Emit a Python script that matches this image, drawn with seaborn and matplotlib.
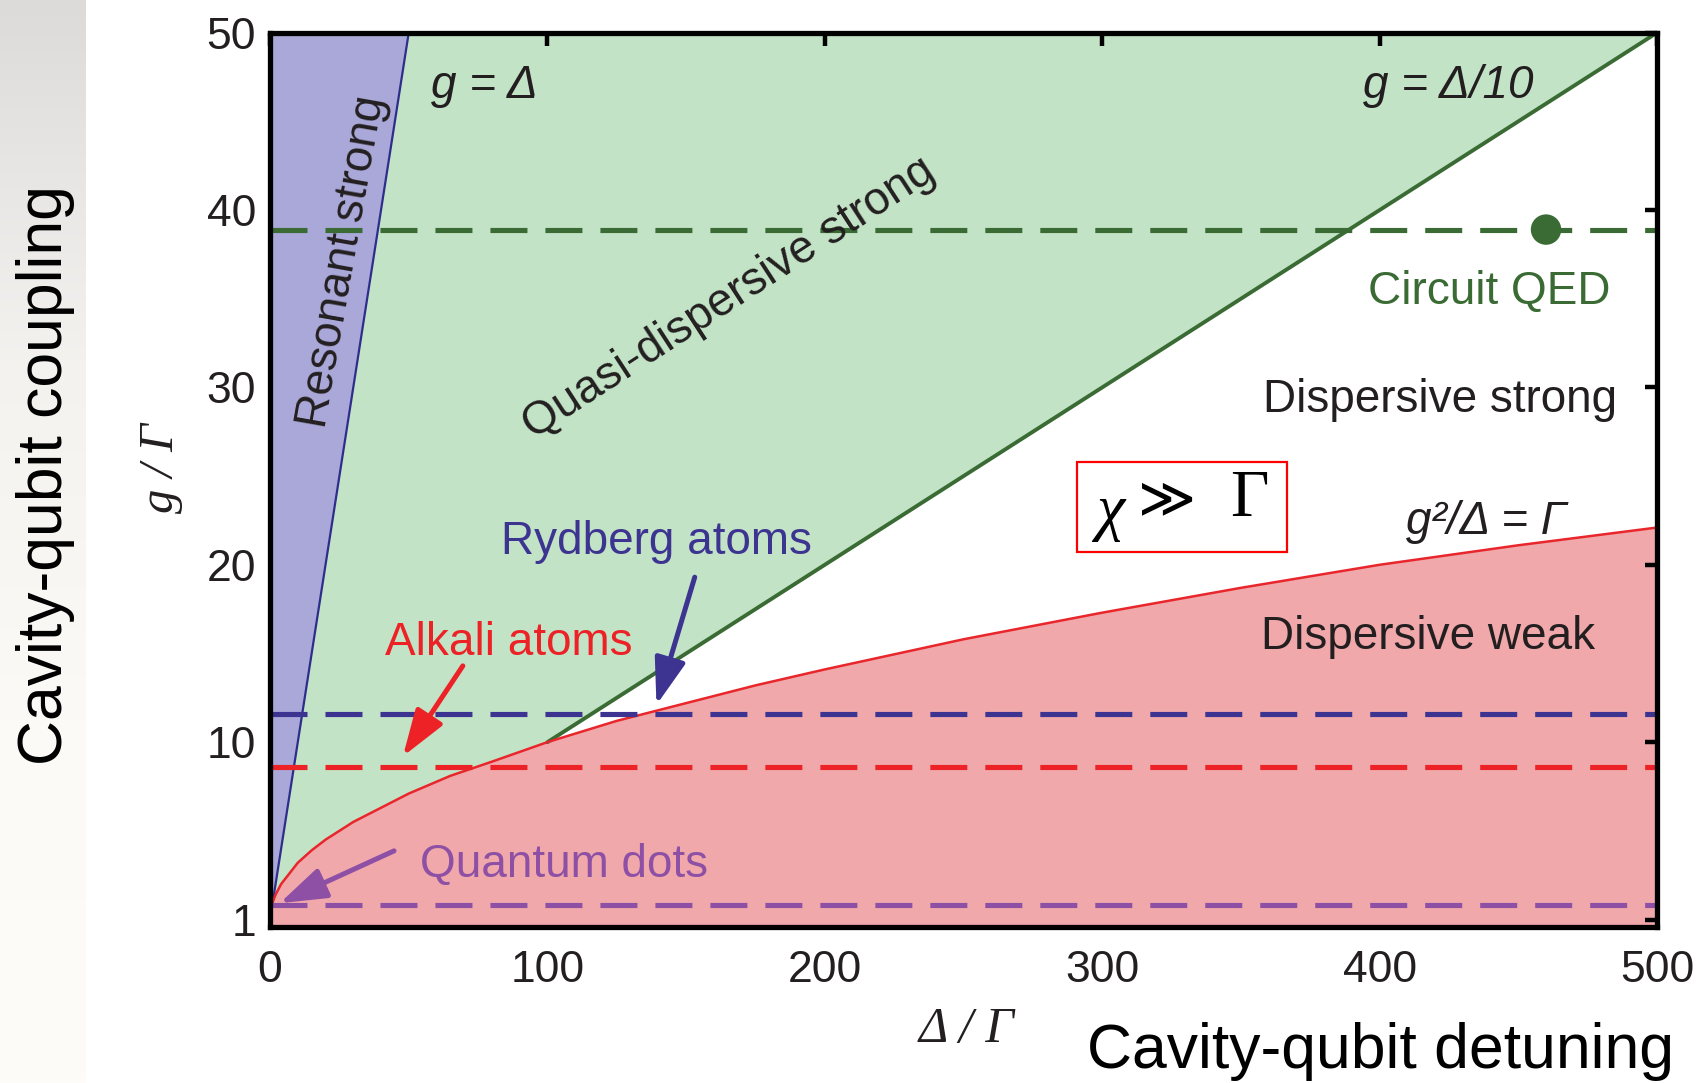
import numpy as np
import pandas as pd
import matplotlib
matplotlib.use("Agg")
import matplotlib.pyplot as plt
import seaborn as sns
from matplotlib.patches import Rectangle

# ---------------- data ----------------
# regime boundaries
resonant_delta = [0, 50]          # g = Δ
resonant_g = [0, 50]
quasi_delta = [100, 500]          # g = Δ/10 (drawn part)
quasi_g = [10, 50]
disp_delta = [0, 1, 2, 4, 7, 10, 15, 20, 30, 40, 50, 65, 80, 100, 125, 150, 175,
              200, 250, 300, 350, 400, 450, 500]                       # g²/Δ = Γ
disp_g = [0, 1.0, 1.4, 2.0, 2.6, 3.2, 3.9, 4.5, 5.5, 6.3, 7.1, 8.1, 8.9, 10.0, 11.2,
          12.2, 13.2, 14.1, 15.8, 17.3, 18.7, 20.0, 21.1, 22.1]

# green region: between g = Δ/10 and min(g = Δ, 50)
green_delta = [0, 50, 500]
green_low = [0, 5, 50]
green_high = [0, 50, 50]

systems = ["Circuit QED", "Rydberg atoms", "Alkali atoms", "Quantum dots"]
system_g = [38.9, 11.6, 8.6, 0.8]
system_colors = ["#3b6b34", "#3d3492", "#ec2227", "#8e50a5"]
cqed_point = (460, 38.9)

xticks = [0, 100, 200, 300, 400, 500]
xtick_labels = ["0", "100", "200", "300", "400", "500"]
yticks = [0, 10, 20, 30, 40, 50]
ytick_labels = ["1", "10", "20", "30", "40", "50"]

# ---------------- style ----------------
sns.set_theme(style="white")
plt.rcParams["font.family"] = ["Liberation Sans", "DejaVu Sans"]
DARK = "#231f20"
SERIF = ["Liberation Serif", "DejaVu Serif"]

fig = plt.figure(figsize=(17.07, 10.83), dpi=100)
fig.patch.set_facecolor("white")

# left slide-background strip
bg = fig.add_axes([0, 0, 86 / 1707, 1], zorder=-5)
grad = np.linspace(0, 1, 256).reshape(-1, 1)
cmap = matplotlib.colors.LinearSegmentedColormap.from_list(
    "bg", ["#dddbda", "#f3f2ef", "#fbfaf6", "#fdfcf8"])
bg.imshow(grad, aspect="auto", cmap=cmap, extent=[0, 1, 0, 1])
bg.set_axis_off()

ax = fig.add_axes([0.1582, 0.1436, 0.8125, 0.8262])
ax.set_xlim(0, 500)
ax.set_ylim(-0.45, 50)
ax.set_axisbelow(False)

# regions
ax.fill_between(green_delta, green_low, green_high, color="#c2e3c6", lw=0, zorder=0.5)
ax.fill_between(disp_delta, -0.45, disp_g, color="#f0a8ab", lw=0, zorder=0.6)
ax.fill_between(resonant_delta, resonant_g, [50, 50], color="#a9a8d8", lw=0, zorder=0.7)

# boundaries
df_res = pd.DataFrame({"delta": resonant_delta, "g": resonant_g})
df_quasi = pd.DataFrame({"delta": quasi_delta, "g": quasi_g})
df_disp = pd.DataFrame({"delta": disp_delta, "g": disp_g})
sns.lineplot(data=df_res, x="delta", y="g", color="#2e2d8c", lw=1.6, ax=ax, zorder=3, sort=False)
sns.lineplot(data=df_quasi, x="delta", y="g", color="#3b6b34", lw=2.8, ax=ax, zorder=3, sort=False)
sns.lineplot(data=df_disp, x="delta", y="g", color="#e8262b", lw=1.8, ax=ax, zorder=3, sort=False)

# system dashed lines
for name, gv, c in zip(systems, system_g, system_colors):
    ax.axhline(gv, color=c, lw=3.7, dashes=(7.2, 3.5), zorder=4)

sns.scatterplot(x=[cqed_point[0]], y=[cqed_point[1]], color="#3b6b34", s=480,
                edgecolor="none", ax=ax, zorder=5)

# ticks / spines
ax.set_xticks(xticks)
ax.set_xticklabels(xtick_labels)
ax.set_yticks(yticks)
ax.set_yticklabels(ytick_labels)
ax.tick_params(axis="both", direction="in", length=9, width=3.2, color="black",
               labelsize=32, labelcolor=DARK, top=True, right=True)
ax.tick_params(axis="x", pad=16)
ax.tick_params(axis="y", pad=10)
for s in ax.spines.values():
    s.set_visible(True)
    s.set_color("black")
    s.set_linewidth(3.8)
    s.set_zorder(10)
ax.set_xlabel("")
ax.set_ylabel("")

FS = 33
# region labels
ax.text(26.3, 37.1, "Resonant strong", rotation=80, fontsize=FS, color=DARK,
        ha="center", va="center", zorder=8)
ax.text(165.6, 35.0, "Quasi-dispersive strong", rotation=33, fontsize=FS, color=DARK,
        ha="center", va="center", zorder=8)
ax.text(77.3, 47.0, "g = Δ", fontsize=FS, style="italic", color=DARK,
        ha="center", va="center", zorder=8)
ax.text(424.6, 47.0, "g = Δ/10", fontsize=FS, style="italic", color=DARK,
        ha="center", va="center", zorder=8)
ax.text(439.6, 35.4, "Circuit QED", fontsize=FS, color="#3b6b34",
        ha="center", va="center", zorder=8)
ax.text(421.9, 29.3, "Dispersive strong", fontsize=FS, color=DARK,
        ha="center", va="center", zorder=8)
ax.text(417.6, 15.9, "Dispersive weak", fontsize=FS, color=DARK,
        ha="center", va="center", zorder=8)
ax.text(438.4, 22.4, "g²/Δ = Γ", fontsize=FS, style="italic", color=DARK,
        ha="center", va="center", zorder=8)
ax.text(139.3, 21.3, "Rydberg atoms", fontsize=FS, color="#3d3492",
        ha="center", va="center", zorder=8)
ax.text(85.9, 15.6, "Alkali atoms", fontsize=FS, color="#ec2227",
        ha="center", va="center", zorder=8)
ax.text(106.0, 3.07, "Quantum dots", fontsize=FS, color="#8e50a5",
        ha="center", va="center", zorder=8)

# arrows
arrows = [((153.1, 19.3), (139.3, 12.1), "#3d3492"),
          ((69.5, 14.3), (47.9, 9.2), "#ec2227"),
          ((44.7, 3.87), (3.5, 0.92), "#8e50a5")]
for tail, head, c in arrows:
    ax.annotate("", xy=head, xytext=tail, zorder=9,
                arrowprops=dict(arrowstyle="-|>,head_length=0.95,head_width=0.32",
                                color=c, lw=3.6, mutation_scale=30,
                                shrinkA=0, shrinkB=0))

# red box with chi >> Gamma
ax.add_patch(Rectangle((290.8, 20.7), 75.8, 5.1, fill=False, edgecolor="#ff0000",
                       lw=1.6, zorder=9))
ax.text(303.0, 22.9, "χ", fontsize=46, style="italic", color="black",
        family=SERIF, ha="center", va="center", zorder=9)
ax.text(323.4, 23.6, "≫", fontsize=40, color="black",
        family=["DejaVu Serif", "DejaVu Sans"], ha="center", va="center", zorder=9)
ax.text(353.2, 23.7, "Γ", fontsize=48, color="black",
        family=SERIF, ha="center", va="center", zorder=9)

# axis labels (italic serif)
fig.text(0.0944, 0.568, "g / Γ", rotation=90, fontsize=35, style="italic", color=DARK,
         family=SERIF, ha="center", va="center")
fig.text(0.5663, 0.0491, "Δ / Γ", fontsize=36, style="italic", color=DARK,
         family=SERIF, ha="center", va="center")

# outer slide labels
fig.text(0.0268, 0.561, "Cavity-qubit coupling", rotation=90, fontsize=45, color="black",
         ha="center", va="center")
fig.text(0.8087, 0.0288, "Cavity-qubit detuning", fontsize=45, color="black",
         ha="center", va="center")

fig.savefig("out.png", dpi=100)
